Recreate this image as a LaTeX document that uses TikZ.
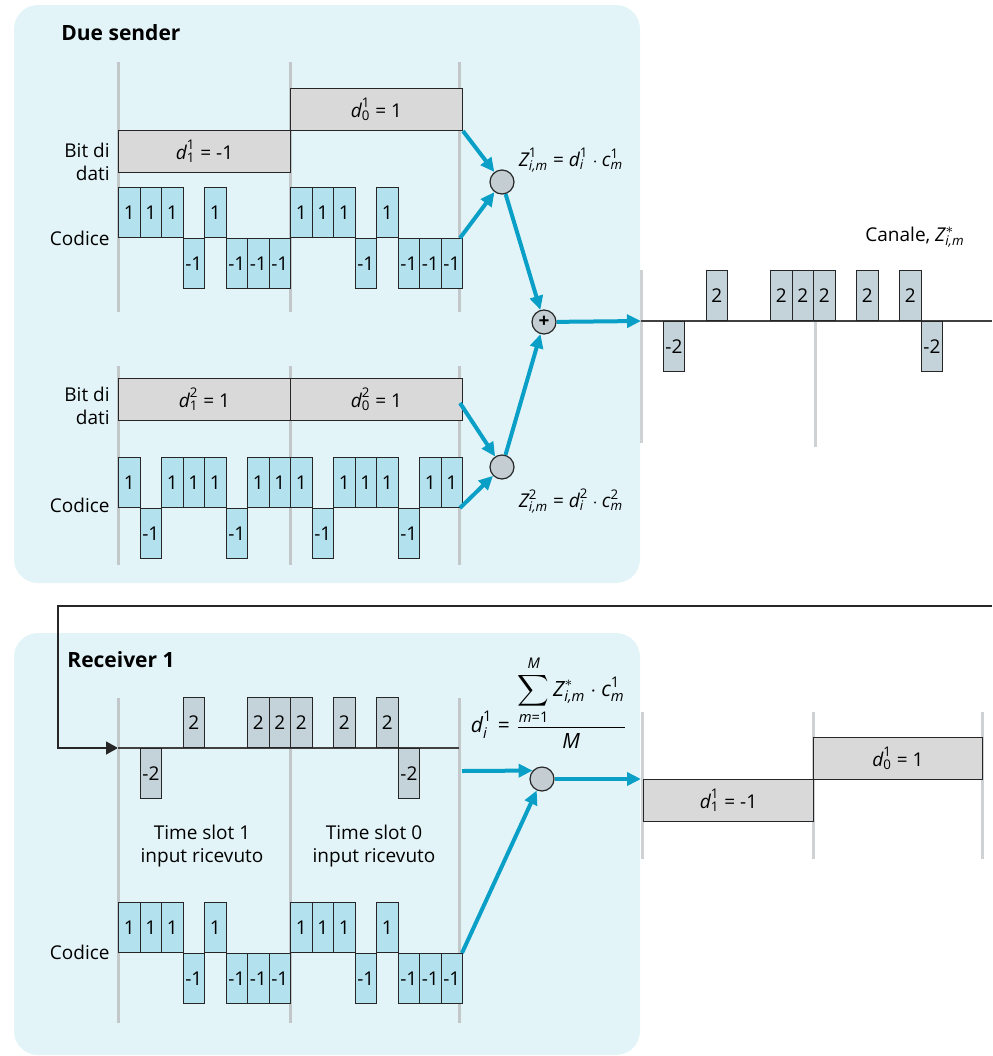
\documentclass[tikz,border=0pt]{standalone}
\usepackage{amsmath}
\usepackage{fontspec}
\setmainfont{Open Sans}
\usepackage{tikz}
\usetikzlibrary{arrows.meta,positioning,calc}

\definecolor{panelblue}{HTML}{E2F4F8}
\definecolor{codeblue}{HTML}{B3E1EE}
\definecolor{sumgray}{HTML}{C4D3D9}
\definecolor{bitgray}{HTML}{D9D9D9}
\definecolor{slotgray}{HTML}{C2C7CA}
\definecolor{flowblue}{HTML}{0A9FC6}
\definecolor{nodegray}{HTML}{C3CDD2}

\newcommand{\mi}[1]{\textit{#1}}
\newcommand{\tx}[1]{\text{#1}}

% one row of chips: x0, baseline y, chip style, list of values
\newcommand{\chiprow}[4]{%
  \foreach \v [count=\k from 0] in {#4} {%
    \ifnum\v>0
      \node[#3,anchor=south west] at ($(#1,#2)+(\k*21.5,0)$) {\v};
    \else\ifnum\v<0
      \node[#3,anchor=north west] at ($(#1,#2)+(\k*21.5,0)$) {\v};
    \fi\fi
  }%
}

\begin{document}
\begin{tikzpicture}[
  x=0.5pt,y=-0.5pt,
  font=\fontsize{9.5}{11.5}\selectfont,
  panel/.style={fill=panelblue,rounded corners=12pt},
  slot/.style={draw=slotgray,line width=1.5pt},
  chip/.style={draw=black!85,line width=0.5pt,minimum width=10.75pt,minimum height=25pt,inner sep=0pt},
  codechip/.style={chip,fill=codeblue},
  sumchip/.style={chip,fill=sumgray,minimum width=10.9pt},
  databit/.style={draw=black!85,line width=0.5pt,fill=bitgray,minimum width=86pt,minimum height=21pt,inner sep=0pt,anchor=north west},
  mult/.style={circle,draw=black!85,line width=0.6pt,fill=nodegray,minimum size=12pt,inner sep=0pt},
  flow/.style={-{Triangle[length=7pt,width=6.5pt]},draw=flowblue,line width=2pt},
  feed/.style={-{Triangle[length=6pt,width=6.5pt]},draw=black!85,line width=0.6pt},
  rowlabel/.style={anchor=east,align=right,inner sep=0pt},
  title/.style={anchor=west,inner sep=0pt,font=\fontsize{10.5}{12}\selectfont\bfseries},
]
\useasboundingbox (0,0) rectangle (992,1056);

% panels
\fill[panel] (14,5) rectangle (640,583);
\fill[panel] (14,633) rectangle (640,1055);
\node[title] (tsend) at (61,33) {Due sender};
\node[title] (trecv) at (67,660) {Receiver 1};

% sender slot lines
\foreach \x in {118,290,459} {
  \draw[slot] (\x,62) -- (\x,312);
  \draw[slot] (\x,366) -- (\x,565);
}

% sender 1
\node[databit] (d11) at (118,130) {$\mi{d}^{\tx{1}}_{\tx{1}}\tx{ = -1}$};
\node[databit] (d01) at (290,88) {$\mi{d}^{\tx{1}}_{\tx{0}}\tx{ = 1}$};
\node[rowlabel] (bit1) at (110,162) {Bit di\\dati};
\node[rowlabel] (cod1) at (110,238) {Codice};
\chiprow{118}{238}{codechip}{1,1,1,-1,1,-1,-1,-1}
\chiprow{290}{238}{codechip}{1,1,1,-1,1,-1,-1,-1}
\coordinate (c1end) at (460,238);

% sender 2
\node[databit] (d12) at (118,378) {$\mi{d}^{\tx{2}}_{\tx{1}}\tx{ = 1}$};
\node[databit] (d02) at (290,378) {$\mi{d}^{\tx{2}}_{\tx{0}}\tx{ = 1}$};
\node[rowlabel] (bit2) at (110,406) {Bit di\\dati};
\node[rowlabel] (cod2) at (110,505) {Codice};
\chiprow{118}{508}{codechip}{1,-1,1,1,1,-1,1,1}
\chiprow{290}{508}{codechip}{1,-1,1,1,1,-1,1,1}
\coordinate (c2end) at (460,508);
\coordinate (d2end) at (460,403);

% multipliers and sum
\node[mult] (mul1) at (502,182) {};
\node[mult] (mul2) at (502,467) {};
\node[mult] (plus) at (544,322) {\textbf{+}};
\node (z1) at (571,160) {$\mi{Z}^{\tx{1}}_{\mi{i,m}}\tx{ = }\mi{d}^{\tx{1}}_{\mi{i}}\cdot\mi{c}^{\tx{1}}_{\mi{m}}$};
\node (z2) at (571,501) {$\mi{Z}^{\tx{2}}_{\mi{i,m}}\tx{ = }\mi{d}^{\tx{2}}_{\mi{i}}\cdot\mi{c}^{\tx{2}}_{\mi{m}}$};

\draw[flow] (d01.south east) -- (mul1);
\draw[flow] (c1end) -- (mul1);
\draw[flow] (d2end) -- (mul2);
\draw[flow] (c2end) -- (mul2);
\draw[flow] (mul1) -- (plus);
\draw[flow] (mul2) -- (plus);

% channel
\draw[slot,draw=slotgray!80] (641,270) -- (641,443);
\draw[slot,draw=slotgray!80] (815,270) -- (815,447);
\coordinate (chin) at (641,321);
\draw[flow] (plus) -- (chin);
\draw[draw=black!75,line width=0.6pt] (chin) -- (992,321);
\chiprow{641}{321}{sumchip}{0,-2,0,2,0,0,2,2}
\chiprow{813}{321}{sumchip}{2,0,2,0,2,-2,0,0}
\node (canale) at (915,237) {Canale, $\mi{Z}^{*}_{\mi{i,m}}$};

% feedback to receiver
\coordinate (fbr) at (992,606);
\coordinate (fbl) at (58,606);
\coordinate (rin) at (118,748);
\draw[feed] (fbr) -- (fbl) |- (rin);

% receiver slot lines
\foreach \x in {118,290,459}
  \draw[slot] (\x,698) -- (\x,1023);

% received signal
\draw[draw=black!75,line width=0.6pt] (rin) -- (459,748);
\chiprow{118}{748}{sumchip}{0,-2,0,2,0,0,2,2}
\chiprow{290}{748}{sumchip}{2,0,2,0,2,-2,0,0}
\node[align=center] (slot1) at (202,846) {Time slot 1\\input ricevuto};
\node[align=center] (slot0) at (374,846) {Time slot 0\\input ricevuto};

% receiver code
\node[rowlabel] (cod3) at (110,952) {Codice};
\chiprow{118}{953}{codechip}{1,1,1,-1,1,-1,-1,-1}
\chiprow{290}{953}{codechip}{1,1,1,-1,1,-1,-1,-1}
\coordinate (c3end) at (462,953);
\coordinate (sigend) at (462,771);

\node[mult] (mulr) at (542,779) {};
\node[font=\fontsize{10.5}{12.5}\selectfont] (dec) at (549,702) {$\mi{d}^{\tx{1}}_{\mi{i}}\tx{ = }\dfrac{\displaystyle\sum_{\mi{m}\tx{=1}}^{\mi{M}}\mi{Z}^{*}_{\mi{i,m}}\cdot\mi{c}^{\tx{1}}_{\mi{m}}}{\mi{M}}$};
\draw[flow] (sigend) -- (mulr.138);
\draw[flow] (c3end) -- (mulr);

% decoded output
\foreach \x in {642,813,982}
  \draw[slot,draw=slotgray!80] (\x,712) -- (\x,859);
\coordinate (outin) at (641,779);
\draw[flow] (mulr) -- (outin);
\node[databit,minimum width=85pt] (o11) at (643,779) {$\mi{d}^{\tx{1}}_{\tx{1}}\tx{ = -1}$};
\node[databit,minimum width=84.5pt] (o01) at (813,737) {$\mi{d}^{\tx{1}}_{\tx{0}}\tx{ = 1}$};
\end{tikzpicture}
\end{document}
